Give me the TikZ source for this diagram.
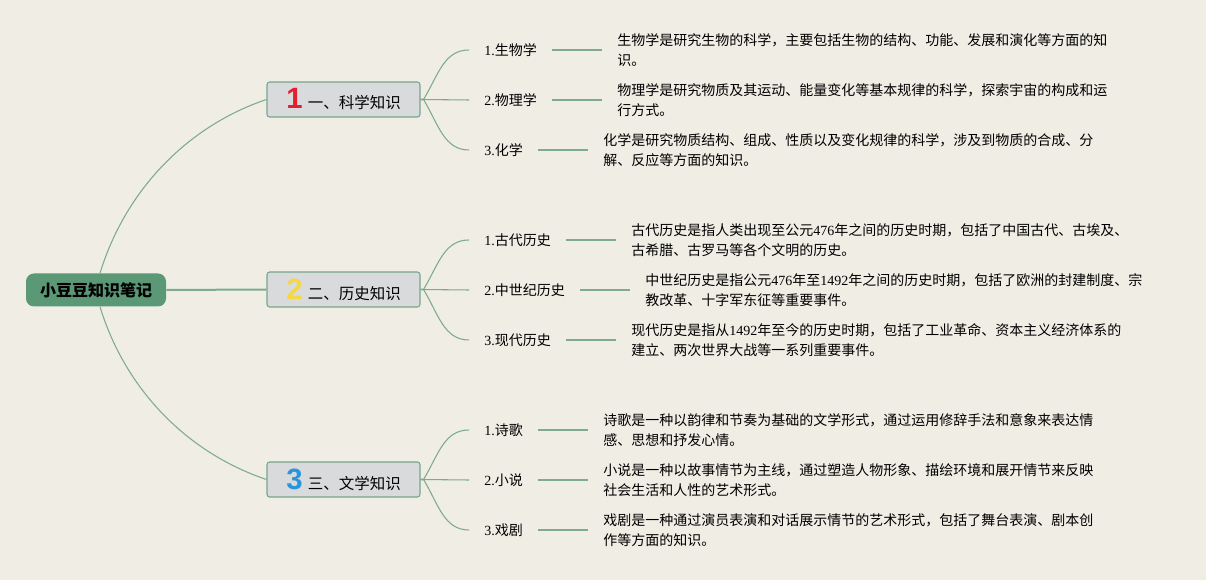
\documentclass[tikz,border=0pt]{standalone}
\usepackage{fontspec}
\setmainfont{Noto Sans CJK SC}
\newfontfamily\serifnum{Liberation Serif}
\newfontfamily\bignum{Liberation Sans}
\newcommand\sn[1]{{\serifnum #1}}
\usetikzlibrary{positioning}
\definecolor{bgc}{HTML}{EFEDE4}
\definecolor{rootgreen}{HTML}{5A9876}
\definecolor{linegreen}{HTML}{7DAA91}
\definecolor{branchfill}{HTML}{D9DADB}
\definecolor{branchborder}{HTML}{78A58C}
\definecolor{numred}{HTML}{E22030}
\definecolor{numyellow}{HTML}{F5D746}
\definecolor{numblue}{HTML}{2896DC}
\tikzset{
  rootbox/.style={rounded corners=6pt, fill=rootgreen, minimum width=105pt, minimum height=24.75pt, inner sep=0pt, font=\fontsize{12}{14}\selectfont\bfseries, text=black},
  branchbox/.style={draw=branchborder, line width=0.8pt, fill=branchfill, rounded corners=2pt, minimum width=114.75pt, minimum height=26.25pt, inner sep=0pt, font=\fontsize{11.6}{14}\selectfont},
  leafbox/.style={inner xsep=11.25pt, inner ysep=0pt, anchor=west, font=\fontsize{10.5}{13}\selectfont},
  descbox/.style={inner xsep=11.25pt, inner ysep=0pt, align=left, font=\fontsize{10.5}{15}\selectfont},
  thinlink/.style={draw=linegreen, line width=0.8pt},
  thicklink/.style={draw=linegreen, line width=1.5pt},
}
\newcommand\bnum[2]{{\bignum\bfseries\fontsize{22}{22}\selectfont\color{#1}#2}\hspace{4pt}}
\begin{document}
\begin{tikzpicture}[x=0.75pt,y=-0.75pt]
\fill[bgc] (0,0) rectangle (1206,580);
\useasboundingbox (0,0) rectangle (1206,580);

\node[rootbox] (root) at (96,290) {小豆豆知识笔记};

\node[branchbox] (b1) at (343.5,99.5) {\bnum{numred}{1}一、科学知识};
\node[branchbox] (b2) at (343.5,289.5) {\bnum{numyellow}{2}二、历史知识};
\node[branchbox] (b3) at (343.5,479.5) {\bnum{numblue}{3}三、文学知识};

\draw[thinlink] ([xshift=3pt]root.north) .. controls +(25,-82) and +(-80,27) .. (b1.west);
\draw[thicklink] (root.east) -- (b2.west);
\draw[thinlink] ([xshift=3pt]root.south) .. controls +(25,82) and +(-80,-27) .. (b3.west);

% leaves
\node[leafbox] (l11) at (469,50) {\sn{1.}生物学};
\node[leafbox] (l12) at (469,100) {\sn{2.}物理学};
\node[leafbox] (l13) at (469,150) {\sn{3.}化学};
\node[leafbox] (l21) at (469,240) {\sn{1.}古代历史};
\node[leafbox] (l22) at (469,290) {\sn{2.}中世纪历史};
\node[leafbox] (l23) at (469,340) {\sn{3.}现代历史};
\node[leafbox] (l31) at (469,430) {\sn{1.}诗歌};
\node[leafbox] (l32) at (469,480) {\sn{2.}小说};
\node[leafbox] (l33) at (469,530) {\sn{3.}戏剧};

\foreach \b/\n in {b1/1,b2/2,b3/3}{
  \draw[thinlink] (\b.east) -- ++(3,0) .. controls +(15,-25) and +(-25,0) .. (l\n1.west);
  \draw[thinlink] (\b.east) -- (l\n2.west);
  \draw[thinlink] (\b.east) -- ++(3,0) .. controls +(15,25) and +(-25,0) .. (l\n3.west);
}

% descriptions
\node[descbox, right=37.5pt of l11] (d11) {生物学是研究生物的科学，主要包括生物的结构、功能、发展和演化等方面的知\\识。};
\node[descbox, right=37.5pt of l12] (d12) {物理学是研究物质及其运动、能量变化等基本规律的科学，探索宇宙的构成和运\\行方式。};
\node[descbox, right=37.5pt of l13] (d13) {化学是研究物质结构、组成、性质以及变化规律的科学，涉及到物质的合成、分\\解、反应等方面的知识。};
\node[descbox, right=37.5pt of l21] (d21) {古代历史是指人类出现至公元\sn{476}年之间的历史时期，包括了中国古代、古埃及、\\古希腊、古罗马等各个文明的历史。};
\node[descbox, right=37.5pt of l22] (d22) {中世纪历史是指公元\sn{476}年至\sn{1492}年之间的历史时期，包括了欧洲的封建制度、宗\\教改革、十字军东征等重要事件。};
\node[descbox, right=37.5pt of l23] (d23) {现代历史是指从\sn{1492}年至今的历史时期，包括了工业革命、资本主义经济体系的\\建立、两次世界大战等一系列重要事件。};
\node[descbox, right=37.5pt of l31] (d31) {诗歌是一种以韵律和节奏为基础的文学形式，通过运用修辞手法和意象来表达情\\感、思想和抒发心情。};
\node[descbox, right=37.5pt of l32] (d32) {小说是一种以故事情节为主线，通过塑造人物形象、描绘环境和展开情节来反映\\社会生活和人性的艺术形式。};
\node[descbox, right=37.5pt of l33] (d33) {戏剧是一种通过演员表演和对话展示情节的艺术形式，包括了舞台表演、剧本创\\作等方面的知识。};

\foreach \n in {11,12,13,21,22,23,31,32,33}{
  \draw[thicklink] (l\n.east) -- (d\n.west);
}
\end{tikzpicture}
\end{document}
